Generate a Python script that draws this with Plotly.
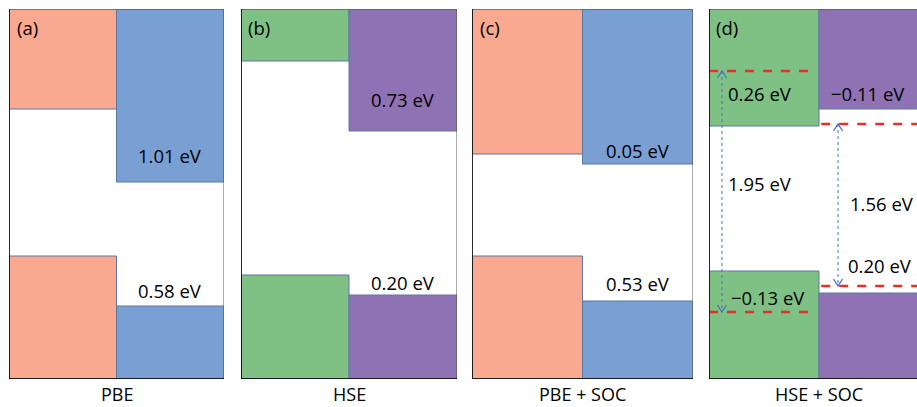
import plotly.graph_objects as go

# Schematic band-alignment levels (arbitrary units, 0 = bottom of panel, 370 = top)
panels = ["(a)", "(b)", "(c)", "(d)"]
methods = ["PBE", "HSE", "PBE + SOC", "HSE + SOC"]
left_cbm = [270, 318, 225, 253]
right_cbm = [197, 248, 215, 270]
left_vbm = [123, 104, 123, 108]
right_vbm = [73, 84, 78, 86]
left_colors = ["#F8A98F", "#7FC185", "#F8A98F", "#7FC185"]
right_colors = ["#7A9FD3", "#8E72B3", "#7A9FD3", "#8E72B3"]

# Offset labels per panel
cb_offsets = ["1.01 eV", "0.73 eV", "0.05 eV"]
vb_offsets = ["0.58 eV", "0.20 eV", "0.53 eV"]

# HSE + SOC: band edges after spin-orbit splitting
soc_left_cbm = 308
soc_right_cbm = 255
soc_left_vbm = 67
soc_right_vbm = 93
soc_shift_labels = ["0.26 eV", "\u22120.11 eV", "\u22120.13 eV", "0.20 eV"]
soc_gap_labels = ["1.95 eV", "1.56 eV"]

TOP = 370
W, H = 917, 407
y_dom = [(H - 379) / H, (H - 9) / H]
x_doms = [(9, 224), (241, 457), (472, 693), (709, 929)]

fig = go.Figure()
shapes = []
annotations = []
font = dict(family="Open Sans", size=18.5, color="black")

for i in range(4):
    k = "" if i == 0 else str(i + 1)
    xa, ya = "x" + k, "y" + k
    x0p, x1p = x_doms[i]
    half = (x1p - x0p) / 2
    right_px = min(x1p, W)
    xmax = (right_px - x0p) / half
    fig.update_layout(**{
        "xaxis" + k: dict(domain=[x0p / W, right_px / W], range=[0, xmax],
                          visible=False, fixedrange=True),
        "yaxis" + k: dict(domain=y_dom, range=[0, TOP], visible=False,
                          fixedrange=True),
    })
    edge = "#5a78a0"
    # conduction bands (top) and valence bands (bottom)
    for (xs, xe, ys, ye, col) in [
        (0, 1, left_cbm[i], TOP, left_colors[i]),
        (1, 2, right_cbm[i], TOP, right_colors[i]),
        (0, 1, 0, left_vbm[i], left_colors[i]),
        (1, 2, 0, right_vbm[i], right_colors[i]),
    ]:
        shapes.append(dict(type="rect", xref=xa, yref=ya, x0=xs, x1=xe,
                           y0=ys, y1=ye, fillcolor=col,
                           line=dict(color=edge, width=1), layer="below"))
    # panel frame
    shapes.append(dict(type="rect", xref=xa, yref=ya, x0=0, x1=2, y0=0,
                       y1=TOP, line=dict(color="#555", width=1),
                       fillcolor="rgba(0,0,0,0)"))
    shapes.append(dict(type="line", xref=xa, yref=ya, x0=0, x1=0, y0=0,
                       y1=TOP, line=dict(color="black", width=1.5)))
    shapes.append(dict(type="line", xref=xa, yref=ya, x0=0, x1=2, y0=0,
                       y1=0, line=dict(color="black", width=1.5)))

    annotations.append(dict(xref=xa, yref=ya, x=18 / half, y=TOP - 18,
                            text=panels[i], showarrow=False, font=font,
                            xanchor="center", yanchor="middle"))
    annotations.append(dict(xref=xa, yref=ya, x=1, y=0, yshift=-15,
                            text=methods[i], showarrow=False,
                            font=dict(family="Open Sans", size=18,
                                      color="black"),
                            borderpad=0, xanchor="center", yanchor="middle"))
    if i < 3:
        annotations.append(dict(xref=xa, yref=ya, x=1.5, y=right_cbm[i],
                                yshift=[27, 32, 14][i], text=cb_offsets[i],
                                showarrow=False, font=font,
                                xanchor="center", yanchor="middle"))
        annotations.append(dict(xref=xa, yref=ya, x=1.5, y=right_vbm[i],
                                yshift=[16, 13, 18][i], text=vb_offsets[i],
                                showarrow=False, font=font,
                                xanchor="center", yanchor="middle"))

# HSE + SOC: split band edges and gaps
xa, ya = "x4", "y4"
red = dict(color="#E8302A", width=2.5, dash="dash")
for (xs, xe, yv) in [(0, 0.98, soc_left_cbm), (1.02, 2, soc_right_cbm),
                     (0, 0.98, soc_left_vbm), (1.02, 2, soc_right_vbm)]:
    fig.add_trace(go.Scatter(x=[xs, xe], y=[yv, yv], mode="lines",
                             line=red, xaxis=xa, yaxis=ya,
                             hoverinfo="skip", showlegend=False))

arrow_col = "#4A6FC0"
for (ax, ytop, ybot) in [(0.118, soc_left_cbm, soc_left_vbm),
                         (1.173, soc_right_cbm, soc_right_vbm)]:
    fig.add_trace(go.Scatter(x=[ax, ax], y=[ytop, ybot], mode="lines",
                             line=dict(color=arrow_col, width=1, dash="dot"),
                             xaxis=xa, yaxis=ya, hoverinfo="skip",
                             showlegend=False))
    dx = 4.5 / 110
    for (tip, d) in [(ytop, -1), (ybot, 1)]:
        fig.add_trace(go.Scatter(x=[ax - dx, ax, ax + dx],
                                 y=[tip + d * 7, tip, tip + d * 7],
                                 mode="lines",
                                 line=dict(color=arrow_col, width=1.3),
                                 xaxis=xa, yaxis=ya, hoverinfo="skip",
                                 showlegend=False))

soc_text_pos = [(0.464, 286), (1.445, 286), (0.536, 82), (1.555, 114)]
for t, (px, py) in zip(soc_shift_labels, soc_text_pos):
    annotations.append(dict(xref=xa, yref=ya, x=px, y=py, text=t,
                            showarrow=False, font=font,
                            xanchor="center", yanchor="middle"))
gap_pos = [(0.464, 196), (1.573, 176)]
for t, (px, py) in zip(soc_gap_labels, gap_pos):
    annotations.append(dict(xref=xa, yref=ya, x=px, y=py, text=t,
                            showarrow=False, font=font,
                            xanchor="center", yanchor="middle"))

fig.update_layout(width=W, height=H, margin=dict(l=0, r=0, t=0, b=0),
                  paper_bgcolor="white", plot_bgcolor="white",
                  shapes=shapes, annotations=annotations, showlegend=False)
fig.write_html("out.html")
